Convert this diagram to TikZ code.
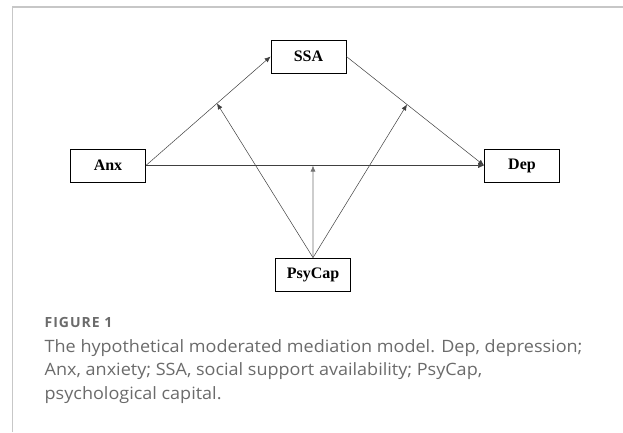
\documentclass[tikz,border=0pt]{standalone}
\usepackage{fontspec}
\setmainfont{Liberation Serif}
\newfontfamily\capfont[FakeStretch=1.06]{Open Sans}
\newfontfamily\figfont[LetterSpace=7]{Open Sans}
\usetikzlibrary{positioning}
\usetikzlibrary{arrows.meta}

\tikzset{
 var/.style={draw=black, line width=0.8pt, minimum width=75pt, minimum height=33pt,
   inner sep=0pt, font=\fontsize{16}{16}\selectfont\bfseries},
 path/.style={draw=black!75, line width=0.5pt, -{Latex[length=6pt,width=5pt]}},
 moder/.style={draw=black!55, line width=0.7pt, -{Latex[length=6pt,width=5pt]}},
 captxt/.style={anchor=west, inner sep=0pt, text=black!58, align=left}
}

\begin{document}
\begin{tikzpicture}[x=1pt,y=-1pt]
 \useasboundingbox (0,0) rectangle (623,432);
 \fill[white] (0,0) rectangle (623,432);
 \draw[black!22, line width=1.2pt] (12.5,432) -- (12.5,7) -- (623,7);

 % variables
 \node[var] (ssa) at (308.5,56.5) {SSA};
 \node[var] (anx) at (108,165.5) {Anx};
 \node[var] (dep) at (522,165.5) {Dep};
 \node[var] (psy) at (313,274.5) {PsyCap};

 % mediation paths
 \draw[path] (anx.east) -- (ssa.west) coordinate[pos=0.57] (ma);
 \draw[path] (ssa.east) -- (dep.west) coordinate[pos=0.44] (mb);
 \draw[path] (anx.east) -- (dep.west) coordinate[pos=0.494] (mc);

 % moderation
 \draw[path] (psy.north) -- (ma);
 \draw[path] (psy.north) -- (mb);
 \draw[moder] (psy.north) -- (mc);

 % caption
 \node[captxt, font=\figfont\fontsize{14}{14}\selectfont\bfseries] (fig) at (44.5,322) {FIGURE 1};
 \node[captxt, font=\capfont\fontsize{17}{23.5}\selectfont] (cap) at (44.5,371.5)
  {The hypothetical moderated mediation model. Dep, depression;\\
   Anx, anxiety; SSA, social support availability; PsyCap,\\
   psychological capital.};
\end{tikzpicture}
\end{document}
